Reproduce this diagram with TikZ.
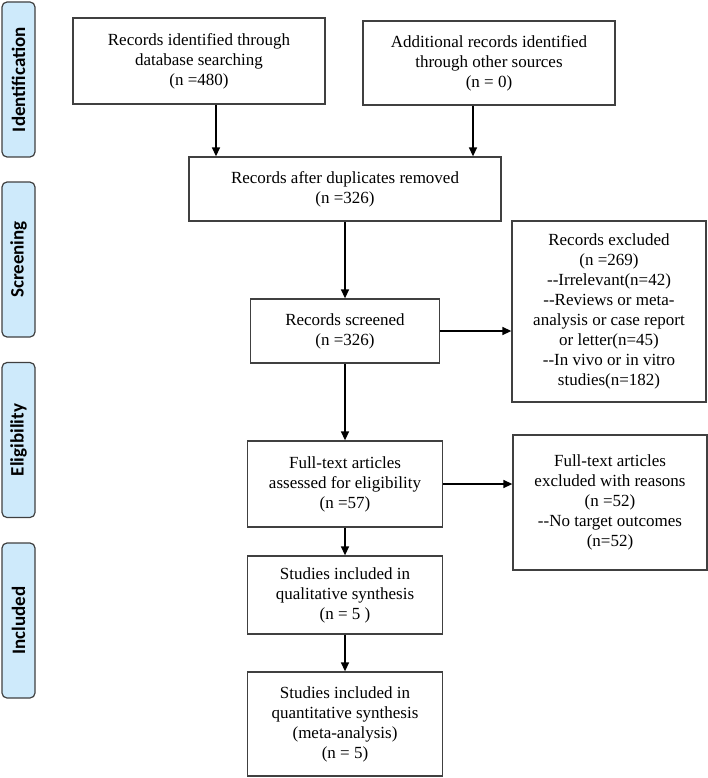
\documentclass[tikz,border=0pt]{standalone}
\usepackage{fontspec}
\setmainfont{Liberation Serif}
\newfontfamily\tabfont{Carlito}
\usetikzlibrary{arrows.meta}
\definecolor{tabblue}{RGB}{206,234,251}
\definecolor{boxgray}{RGB}{64,64,64}
\newcommand{\dd}{-{}-}
\begin{document}
\begin{tikzpicture}[x = 1pt, y = -1pt,
    box/.style = {draw = boxgray, line width = 1.3pt, align = center, inner sep = 2pt,
        font = \fontsize{17}{20}\selectfont},
    tab/.style = {draw = boxgray, fill = tabblue, line width = 1.2pt, rounded corners = 5pt,
        minimum width = 155pt, minimum height = 33pt, rotate = 90,
        font = \tabfont\bfseries\fontsize{19}{22}\selectfont},
    arr/.style = {line width = 1.4pt, -{Triangle[length = 9pt, width = 8pt]}}]
        \useasboundingbox (0,0) rectangle (708,778);
        \node[tab] (ident) at (18.5, 79.5) {Identification};
        \node[tab] (screen) at (18.5, 259.5) {Screening};
        \node[tab] (elig) at (18.5, 440) {Eligibility};
        \node[tab] (incl) at (18.5, 620.5) {Included};
        \node[box, minimum width = 252pt, minimum height = 86pt] (recid) at (199, 61)
            {Records identified through\\database searching\\(n =480)};
        \node[box, minimum width = 252pt, minimum height = 84pt] (addrec) at (489, 63)
            {Additional records identified\\through other sources\\(n = 0)};
        \node[box, minimum width = 312pt, minimum height = 64pt] (dup) at (345, 189)
            {Records after duplicates removed\\(n =326)};
        \node[box, minimum width = 189pt, minimum height = 64pt] (scr) at (345, 331)
            {Records screened\\(n =326)};
        \node[box, minimum width = 194pt, minimum height = 181pt] (excl) at (609, 311.5)
            {Records excluded\\(n =269)\\\dd Irrelevant(n=42)\\\dd Reviews or meta-\\analysis or case report\\or letter(n=45)\\\dd In vivo or in vitro\\studies(n=182)};
        \node[box, minimum width = 195pt, minimum height = 86pt] (full) at (345, 484)
            {Full-text articles\\assessed for eligibility\\(n =57)};
        \node[box, minimum width = 194pt, minimum height = 135pt] (fullex) at (610, 502.5)
            {Full-text articles\\excluded with reasons\\(n =52)\\\dd No target outcomes\\(n=52)};
        \node[box, minimum width = 195pt, minimum height = 78pt] (qual) at (345, 595)
            {Studies included in\\qualitative synthesis\\(n = 5 )};
        \node[box, minimum width = 195pt, minimum height = 104pt] (quant) at (345, 724)
            {Studies included in\\quantitative synthesis\\(meta-analysis)\\(n = 5)};
        \draw[arr] ([xshift = 17]recid.south) -- ([xshift = 17]recid.south |- dup.north);
        \draw[arr] ([xshift = -16]addrec.south) -- ([xshift = -16]addrec.south |- dup.north);
        \draw[arr] (dup) -- (scr);
        \draw[arr] (scr) -- (excl.west |- scr);
        \draw[arr] (scr) -- (full);
        \draw[arr] (full) -- (fullex.west |- full);
        \draw[arr] (full) -- (qual);
        \draw[arr] (qual) -- (quant);
    \end{tikzpicture}
\end{document}
